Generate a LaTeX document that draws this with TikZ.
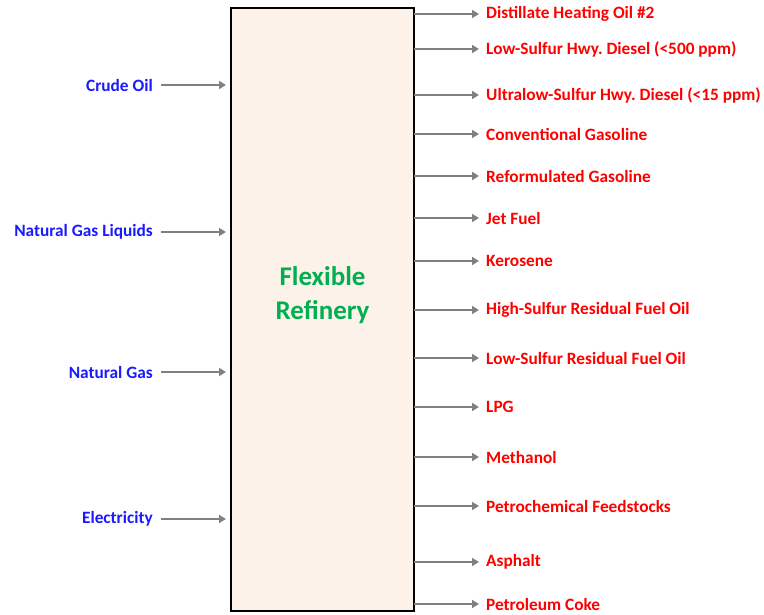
\documentclass[tikz,border=0pt]{standalone}
\usepackage{fontspec}
\setmainfont{Carlito}
\frenchspacing
\usetikzlibrary{arrows.meta}
\definecolor{boxfill}{HTML}{FDF2E9}
\definecolor{arrgray}{HTML}{808080}
\definecolor{inblue}{HTML}{1A1AFF}
\definecolor{outred}{HTML}{FF0000}
\definecolor{refgreen}{HTML}{00B050}
\tikzset{
  x=1pt, y=-1pt,
  flow/.style={draw=arrgray, line width=1.8pt, -{Triangle[length=7pt,width=8pt]}},
  inlabel/.style={font=\bfseries\fontsize{17.3}{20}\selectfont, text=inblue, anchor=east, inner sep=0pt},
  outlabel/.style={font=\bfseries\fontsize{17.3}{20}\selectfont, text=outred, anchor=west, inner sep=0pt},
  refbox/.style={draw=black, line width=1.5pt, fill=boxfill},
}
\begin{document}
\begin{tikzpicture}
\useasboundingbox (0,0) rectangle (764,615);
\path[refbox] (231,8) rectangle (414,611);
\node[font=\bfseries\fontsize{27}{34}\selectfont, text=refgreen, align=center] (ref) at (322.5,295) {Flexible\\Refinery};
% inputs
\foreach \n/\y/\t in {i1/85/Crude Oil, i2/232/Natural Gas Liquids, i3/372/Natural Gas, i4/519/Electricity}{
  \node[inlabel] (\n) at (153,\y) {\t};
  \coordinate (\n e) at (226,\y);
  \draw[flow] (161,\y) -- (\n e);
}
% outputs
\foreach \n/\y/\t in {o1/14/Distillate Heating Oil \#2, o2/49/Low-Sulfur Hwy. Diesel (<500 ppm), o3/95/Ultralow-Sulfur Hwy. Diesel (<15 ppm), o4/134/Conventional Gasoline, o5/176/Reformulated Gasoline, o6/218/Jet Fuel, o7/261/Kerosene, o8/310/High-Sulfur Residual Fuel Oil, o9/358/Low-Sulfur Residual Fuel Oil, o10/407/LPG, o11/457/Methanol, o12/506/Petrochemical Feedstocks, o13/562/Asphalt, o14/604/Petroleum Coke}{
  \node[outlabel] (\n) at (486,\y) {\t};
  \coordinate (\n s) at (414,\y);
  \draw[flow] (\n s) -- (479,\y);
}
\end{tikzpicture}
\end{document}
